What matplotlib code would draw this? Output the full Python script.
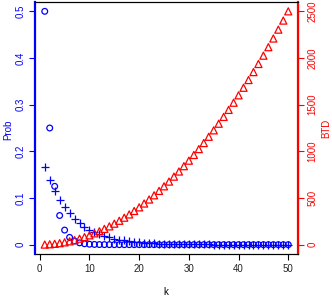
import matplotlib
matplotlib.use("Agg")
import matplotlib.pyplot as plt

k = list(range(1, 51))
prob_circle = [0.5, 0.25, 0.125, 0.0625, 0.03125, 0.015625, 0.0078125, 0.0039063,
               0.0019531, 0.0009766, 0.0004883, 0.0002441, 0.0001221, 0.000061,
               0.0000305, 0.0000153, 0.0000076, 0.0000038, 0.0000019, 0.000001] + [0.0] * 30
prob_plus = [0.1667, 0.1389, 0.1157, 0.0965, 0.0804, 0.0670, 0.0558, 0.0465, 0.0388, 0.0323,
             0.0269, 0.0224, 0.0187, 0.0156, 0.0130, 0.0108, 0.0090, 0.0075, 0.0063, 0.0052,
             0.0043, 0.0036, 0.0030, 0.0025, 0.0021, 0.0017, 0.0015, 0.0012, 0.0010, 0.0008,
             0.0007, 0.0006, 0.0005, 0.0004, 0.0003, 0.0003, 0.0002, 0.0002, 0.0002, 0.0001,
             0.0001, 0.0001, 0.0001, 0.0001, 0.0000, 0.0000, 0.0000, 0.0000, 0.0000, 0.0000]
btd = [1, 4, 9, 16, 25, 36, 49, 64, 81, 100, 121, 144, 169, 196, 225, 256, 289, 324, 361, 400,
       441, 484, 529, 576, 625, 676, 729, 784, 841, 900, 961, 1024, 1089, 1156, 1225, 1296,
       1369, 1444, 1521, 1600, 1681, 1764, 1849, 1936, 2025, 2116, 2209, 2304, 2401, 2500]
xticks = [0, 10, 20, 30, 40, 50]
yticks_left = [0, 0.1, 0.2, 0.3, 0.4, 0.5]
ytick_labels_left = ["0", "0.1", "0.2", "0.3", "0.4", "0.5"]
yticks_right = [0, 500, 1000, 1500, 2000, 2500]

plt.rcParams['font.family'] = ['Liberation Sans', 'DejaVu Sans']
fig = plt.figure(figsize=(3.32, 3.0), dpi=100)
ax = fig.add_axes([35/332, 46/300, (298-35)/332, (254-2)/300])
ax.scatter(k, prob_circle, s=17, facecolors='none', edgecolors='#0000FF', linewidths=0.9, zorder=3)
ax.scatter(k, prob_plus, s=26, marker='+', c='#0000FF', linewidths=0.9, zorder=3)
ax.set_xlim(-0.96, 51.96)
ax.set_ylim(-0.02, 0.52)
ax.set_xticks(xticks)
ax.set_xticklabels([str(v) for v in xticks], fontsize=7, color='#222222')
ax.set_yticks(yticks_left)
ax.set_yticklabels(ytick_labels_left, fontsize=7, color='#0000FF', rotation=90, va='center')
ax.tick_params(axis='x', length=4, width=0.8, pad=3)
ax.tick_params(axis='y', length=4, width=0.8, pad=3, color='#0000FF')
ax.spines['left'].set_color('#0000FF')
ax.spines['left'].set_linewidth(1.6)
ax.spines['bottom'].set_linewidth(0.8)
ax.spines['top'].set_linewidth(0.8)
ax.spines['right'].set_linewidth(0.8)

ax2 = ax.twinx()
ax2.scatter(k, btd, s=26, marker='^', facecolors='none', edgecolors='#FF0000', linewidths=0.9, zorder=2)
ax2.set_ylim(-100, 2600)
ax2.set_yticks(yticks_right)
ax2.set_yticklabels([str(v) for v in yticks_right], fontsize=7, color='#FF0000', rotation=90, va='center')
ax2.tick_params(axis='y', length=4, width=0.8, pad=3, color='#FF0000')
ax2.spines['right'].set_color('#FF0000')
ax2.spines['right'].set_linewidth(1.6)
ax2.spines['left'].set_visible(False)

fig.text(166/332, 1 - 292/300, 'k', fontsize=7, ha='center', va='center')
fig.text(8/332, 1 - 130/300, 'Prob', fontsize=7, color='#0000FF', rotation=90, ha='center', va='center')
fig.text(326/332, 1 - 128/300, 'BTD', fontsize=7, color='#FF0000', rotation=90, ha='center', va='center')

fig.savefig('out.png', dpi=100)
